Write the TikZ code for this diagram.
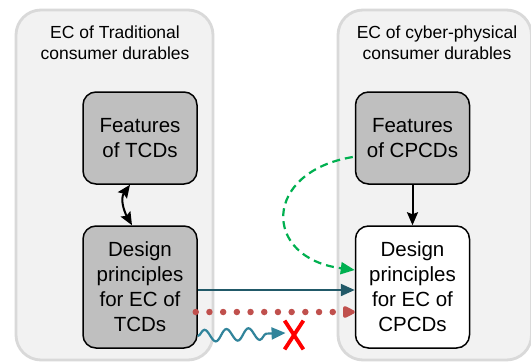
\documentclass[tikz,border=0pt]{standalone}
\usepackage{fontspec}
\setmainfont{Liberation Sans}
\usetikzlibrary{arrows.meta,calc,decorations.pathmorphing,shapes.misc}
\definecolor{contfill}{HTML}{F2F2F2}
\definecolor{contline}{HTML}{D9D9D9}
\definecolor{boxgray}{HTML}{BFBFBF}
\definecolor{darkteal}{HTML}{215968}
\definecolor{liteteal}{HTML}{31849B}
\definecolor{dotred}{HTML}{C0504D}
\definecolor{dgreen}{HTML}{00B050}
\tikzset{
  container/.style={draw=contline, fill=contfill, line width=2.8pt, rounded corners=25pt},
  ctitle/.style={align=center, font=\fontsize{17.5}{21}\selectfont, inner sep=0pt},
  bigbox/.style={draw=black, line width=1.5pt, rounded corners=13pt, minimum width=114pt, align=center, inner sep=0pt, font=\fontsize{20.5}{25}\selectfont},
  featbox/.style={bigbox, fill=boxgray, minimum height=92pt},
  desbox/.style={bigbox, minimum height=122pt},
  blackarrow/.style={line width=2pt, -{Stealth[length=13pt 0 0, width=11pt 0 0, inset=2pt 0 0]}},
  dblarrow/.style={line width=2pt, {Stealth[length=13pt 0 0, width=11pt 0 0, inset=2pt 0 0]}-{Stealth[length=13pt 0 0, width=11pt 0 0, inset=2pt 0 0]}},
  greenarrow/.style={draw=dgreen, line width=2.2pt, dash pattern=on 8pt off 5pt, -{Triangle[length=14pt 0 0, width=12pt 0 0]}},
  tealarrow/.style={draw=darkteal, line width=2.2pt, -{Triangle[length=14pt 0 0, width=12pt 0 0]}},
  dotarrow/.style={draw=dotred, line width=6.5pt, line cap=round, dash pattern=on 0pt off 13.7pt, -{Triangle[length=14pt 0 0, width=13pt 0 0, round=false]}},
  wavearrow/.style={draw=liteteal, line width=2.2pt, decorate, decoration={snake, segment length=22pt, amplitude=6pt, post length=12pt}, -{Triangle[length=14pt 0 0, width=12pt 0 0]}},
}
\begin{document}
\begin{tikzpicture}[x=1pt,y=-1pt]
\useasboundingbox (0,0) rectangle (531,362);
\fill[white] (0,0) rectangle (531,362);
% containers
\draw[container] (16,10) rectangle (213,360);
\draw[container] (338,10) rectangle (531.5,360);
\node[ctitle] (lt) at (115,43) {EC of Traditional\\consumer durables};
\node[ctitle] (rt) at (437,43) {EC of cyber-physical\\consumer durables};
% boxes
\node[featbox] (ft) at (140,138) {Features\\of TCDs};
\node[desbox, fill=boxgray] (dt) at (140,287) {Design\\principles\\for EC of\\TCDs};
\node[featbox] (fc) at (412.5,138) {Features\\of CPCDs};
\node[desbox, fill=white] (dc) at (412.5,287) {Design\\principles\\for EC of\\CPCDs};
% cross mark
\node[cross out, draw=red, line width=3.8pt, minimum width=15pt, minimum height=25pt, inner sep=0pt] (xx) at (294,335) {};
% connectors
\draw[dblarrow] ($(ft.south)+(-10,0)$) .. controls +(-10,14) and +(-8,-14) .. ($(dt.north)+(-8,0)$);
\draw[blackarrow] (fc.south) -- (dc.north);
\draw[greenarrow] ($(fc.west)+(-2,19)$) .. controls (262,172) and (262,258) .. ($(dc.west)+(0,-17)$);
\draw[tealarrow] ($(dt.east)+(0,3)$) -- ($(dc.west)+(0,3)$);
\draw[dotarrow] ($(dt.east)+(-2,25)$) -- ($(dc.west)+(0,25)$);
\draw[wavearrow] ($(dt.east)+(0,49)$) -- ($(xx.west)+(1,-2)$);
\end{tikzpicture}
\end{document}
